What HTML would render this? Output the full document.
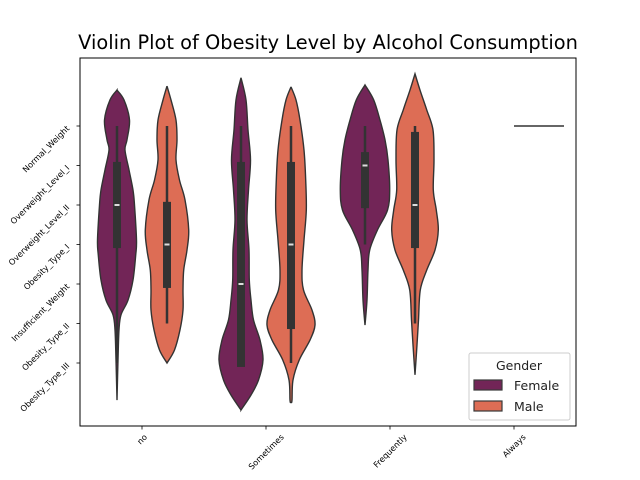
<!DOCTYPE html>
<html><head><meta charset="utf-8"><style>
html,body{margin:0;padding:0;background:#fff;}
svg{display:block;font-family:"DejaVu Sans","Liberation Sans",sans-serif;}
</style></head><body>
<svg id="chart" width="640" height="480" viewBox="0 0 640 480">
<rect x="0" y="0" width="640" height="480" fill="#fff"/>
<text x="328" y="49" text-anchor="middle" font-size="19.4" fill="#000">Violin Plot of Obesity Level by Alcohol Consumption</text>
<g id="marks"></g>
<rect x="80" y="58" width="496" height="368" fill="none" stroke="#000" stroke-width="1"/>
<g id="axes"></g>
<g>
<rect x="469" y="353" width="101" height="67" rx="2" fill="#fff" fill-opacity="0.8" stroke="#ccc"/>
<text x="519" y="370" text-anchor="middle" font-size="12.5" fill="#222">Gender</text>
<rect x="474" y="380" width="28" height="10" fill="#722557" stroke="#3a3a3a" stroke-width="1.2"/>
<text x="514" y="390" font-size="12.5" fill="#222">Female</text>
<rect x="474" y="401" width="28" height="10" fill="#dd6d55" stroke="#3a3a3a" stroke-width="1.2"/>
<text x="514" y="411" font-size="12.5" fill="#222">Male</text>
</g>
</svg>
<script>
const categories = ["no","Sometimes","Frequently","Always"];
const levels = ["Normal_Weight","Overweight_Level_I","Overweight_Level_II","Obesity_Type_I","Insufficient_Weight","Obesity_Type_II","Obesity_Type_III"];
const genders = ["Female","Male"];
const colors = {Female:"#722557", Male:"#dd6d55"};

// violin density profiles: level positions (category units) and half-widths
const femaleNoY = [-0.91,-0.66,-0.15,0.35,0.61,1.11,1.62,2.0,2.89,3.27,3.9,4.41,4.78,5.16,5.92,6.94];
const femaleNoW = [0,7,12.5,10,8,12,16,17.5,19.5,18.7,16,11,4,2,1,0];
const maleNoY = [-1.01,-0.66,-0.15,0.35,0.86,1.37,1.87,2.63,3.14,3.65,4.15,4.66,5.16,5.67,6.0];
const maleNoW = [0,4,9,10,9,12.5,18,21.7,20,16.7,16,16,13,7.5,0];
const femaleSomeY = [-1.22,-0.66,0.10,0.86,1.62,2.38,3.14,3.9,4.41,4.91,5.42,5.92,6.43,6.81,7.19];
const femaleSomeW = [0,5,7,9.5,7.5,6,8,8.3,10,12.5,19,22,17.5,10,0];
const maleSomeY = [-0.99,-0.66,-0.15,0.61,1.37,2.13,2.89,3.65,4.15,4.66,5.04,5.42,5.92,6.43,6.94,7.01];
const maleSomeW = [0,5,9,13,14.7,15.3,13,11,12.5,21,24,19,8.3,2,1,0];
const femaleFreqY = [-1.04,-0.66,-0.15,0.35,0.86,1.62,2.13,2.63,3.14,3.65,4.41,5.04];
const femaleFreqW = [0,8.7,15,20,23,24.7,22.5,12.5,4.7,3,2,0];
const maleFreqY = [-1.32,-0.91,-0.41,0.10,0.86,1.62,2.13,2.63,3.14,3.65,4.15,4.91,5.54,6.30];
const maleFreqW = [0,5,11.7,18,19,18.3,21.3,23.3,20,11.7,5.3,3.5,2,0];

// box stats: [whiskerLow, q1, median, q3, whiskerHigh]
const femaleNoBox = [0,0.91,2,3.09,6];
const maleNoBox = [0,1.92,3,4.10,5];
const femaleSomeBox = [0,0.91,4,6.1,6];
const maleSomeBox = [0,0.91,3,5.14,6];
const femaleFreqBox = [0,0.66,1,2.08,3];
const maleFreqBox = [0,0.15,2,3.09,5];
const maleAlwaysValue = 0;

const violins = [
 {cat:0,g:"Female",y:femaleNoY,w:femaleNoW,box:femaleNoBox},
 {cat:0,g:"Male",y:maleNoY,w:maleNoW,box:maleNoBox},
 {cat:1,g:"Female",y:femaleSomeY,w:femaleSomeW,box:femaleSomeBox},
 {cat:1,g:"Male",y:maleSomeY,w:maleSomeW,box:maleSomeBox},
 {cat:2,g:"Female",y:femaleFreqY,w:femaleFreqW,box:femaleFreqBox},
 {cat:2,g:"Male",y:maleFreqY,w:maleFreqW,box:maleFreqBox}
];

const NS="http://www.w3.org/2000/svg";
function xScale(c){return 142 + c*124;}
function yScale(v){return 126 + v*39.5;}
function offset(g){return g==="Female" ? -25 : 25;}
function mk(tag,attrs,parent){const e=document.createElementNS(NS,tag);for(const k in attrs)e.setAttribute(k,attrs[k]);parent.appendChild(e);return e;}
function smooth(pts){
  let d="M"+pts[0][0]+","+pts[0][1];
  for(let i=0;i<pts.length-1;i++){
    const p0=pts[Math.max(0,i-1)],p1=pts[i],p2=pts[i+1],p3=pts[Math.min(pts.length-1,i+2)];
    const c1=[p1[0]+(p2[0]-p0[0])/6,p1[1]+(p2[1]-p0[1])/6];
    const c2=[p2[0]-(p3[0]-p1[0])/6,p2[1]-(p3[1]-p1[1])/6];
    d+=" C"+c1[0].toFixed(2)+","+c1[1].toFixed(2)+" "+c2[0].toFixed(2)+","+c2[1].toFixed(2)+" "+p2[0].toFixed(2)+","+p2[1].toFixed(2);
  }
  return d;
}
const marks=document.getElementById("marks");
violins.forEach(v=>{
  const cx=xScale(v.cat)+offset(v.g);
  const left=v.y.map((yy,i)=>[cx-v.w[i],yScale(yy)]);
  const right=v.y.map((yy,i)=>[cx+v.w[i],yScale(yy)]).reverse();
  const d=smooth(left)+" L"+right[0][0]+","+right[0][1]+smooth(right).replace(/^M[^ ]+/,"")+" Z";
  const p=mk("path",{d:d,fill:colors[v.g],stroke:"#333",'stroke-width':1.4},marks);
  
  
  const b=v.box;
  const wl=mk("line",{x1:cx,x2:cx,y1:yScale(b[0]),y2:yScale(b[4]),stroke:"#333",'stroke-width':2.5},marks);
  
  
  const r=mk("rect",{x:cx-4,y:yScale(b[1]),width:8,height:yScale(b[3])-yScale(b[1]),fill:"#333"},marks);
  
  
  const m=mk("line",{x1:cx-2.5,x2:cx+2.5,y1:yScale(b[2]),y2:yScale(b[2]),stroke:"#ddd",'stroke-width':2},marks);
  
  
});
const ax=xScale(3)+offset("Male");
const al=mk("line",{x1:ax-25,x2:ax+25,y1:yScale(maleAlwaysValue),y2:yScale(maleAlwaysValue),stroke:"#333",'stroke-width':1.6},marks);



const axes=document.getElementById("axes");
levels.forEach((l,i)=>{
  const y=yScale(i);
  const t=mk("line",{x1:76.5,x2:80,y1:y,y2:y,stroke:"#000",'stroke-width':0.8},axes);
  
  
  const tx=mk("text",{x:70,y:y+3,'font-size':8.2,'text-anchor':'end',fill:"#000",transform:"rotate(-45 70 "+(y+3)+")"},axes);
  tx.textContent=l;
  
  
});
categories.forEach((c,i)=>{
  const x=xScale(i);
  const t=mk("line",{x1:x,x2:x,y1:426,y2:429.5,stroke:"#000",'stroke-width':0.8},axes);
  
  
  const tx=mk("text",{x:0,y:0,'font-size':8.2,'text-anchor':'middle','dominant-baseline':'central',fill:"#000"},axes);
  tx.textContent=c;
  const L=tx.getComputedTextLength();
  const cy=433+L*0.354+2.5;
  tx.setAttribute('x',x);
  tx.setAttribute('y',cy);
  tx.setAttribute('transform','rotate(-45 '+x+' '+cy+')');
  
  
});
</script>
</body></html>
